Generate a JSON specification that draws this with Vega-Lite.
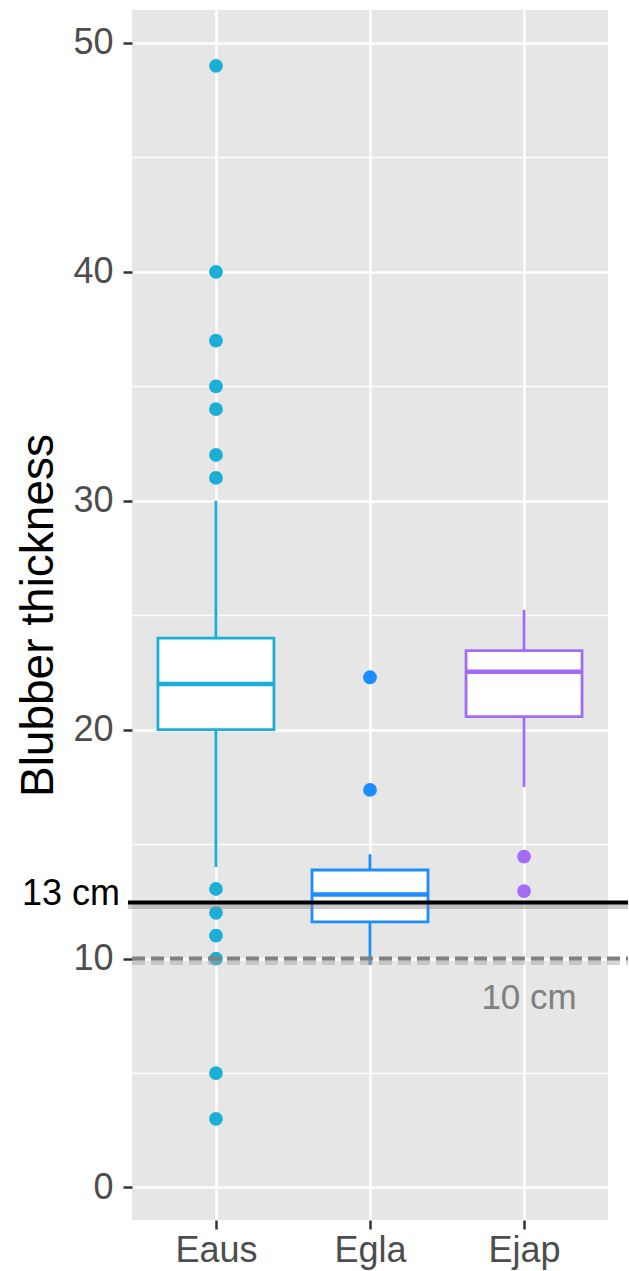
{
  "$schema": "https://vega.github.io/schema/vega-lite/v6.json",
  "width": 476,
  "height": 1210,
  "autosize": "none",
  "padding": {"left": 132, "top": 10, "right": 21, "bottom": 51},
  "background": "white",
  "config": {
    "view": {"fill": "#e6e6e6", "stroke": null},
    "font": "Liberation Sans"
  },
  "datasets": {
    "boxes": [
      {"species": "Eaus", "lower": 14.0, "q1": 20.0, "median": 22.0, "q3": 24.0, "upper": 30.0},
      {"species": "Egla", "lower": 9.72, "q1": 11.6, "median": 12.8, "q3": 13.87, "upper": 14.56},
      {"species": "Ejap", "lower": 17.5, "q1": 20.57, "median": 22.53, "q3": 23.45, "upper": 25.23}
    ],
    "outliers": [
      {"species": "Eaus", "thickness": 49},
      {"species": "Eaus", "thickness": 40},
      {"species": "Eaus", "thickness": 37},
      {"species": "Eaus", "thickness": 35},
      {"species": "Eaus", "thickness": 34},
      {"species": "Eaus", "thickness": 32},
      {"species": "Eaus", "thickness": 31},
      {"species": "Eaus", "thickness": 13.04},
      {"species": "Eaus", "thickness": 12.0},
      {"species": "Eaus", "thickness": 11.0},
      {"species": "Eaus", "thickness": 10.0},
      {"species": "Eaus", "thickness": 5.0},
      {"species": "Eaus", "thickness": 3.0},
      {"species": "Egla", "thickness": 22.29},
      {"species": "Egla", "thickness": 17.37},
      {"species": "Ejap", "thickness": 14.45},
      {"species": "Ejap", "thickness": 12.95}
    ],
    "refs": [
      {"value": 12.45, "label": "13 cm"},
      {"value": 10, "label": "10 cm"}
    ]
  },
  "layer": [
    {
      "data": {"name": "boxes"},
      "mark": {"type": "rule", "strokeWidth": 2.8},
      "encoding": {
        "x": {
          "field": "species", "type": "nominal",
          "scale": {"type": "point", "domain": ["Eaus", "Egla", "Ejap"], "padding": 0.545},
          "axis": {
            "title": null, "labelFontSize": 36, "labelColor": "#4d4d4d", "labelAngle": 0,
            "tickSize": 9, "tickWidth": 2.5, "tickColor": "#333333", "labelPadding": 4,
            "grid": true, "gridColor": "white", "gridWidth": 2.5, "domain": false,
            "labelFont": "Liberation Sans"
          }
        },
        "y": {
          "field": "lower", "type": "quantitative",
          "scale": {"domain": [-1.42, 51.44], "nice": false, "zero": false},
          "axis": {
            "title": "Blubber thickness", "titleFontSize": 46, "titleFontWeight": "normal",
            "titleColor": "#000000", "titlePadding": 10, "titleFont": "Liberation Sans",
            "values": [0, 5, 10, 15, 20, 25, 30, 35, 40, 45, 50],
            "labelExpr": "datum.value % 10 === 0 ? datum.label : ''",
            "labelFontSize": 36, "labelColor": "#4d4d4d", "labelPadding": 10,
            "labelOverlap": false, "labelFlush": false, "labelFont": "Liberation Sans",
            "tickSize": 9, "tickWidth": 2.5, "tickColor": "#333333",
            "tickOpacity": {"condition": {"test": "datum.value % 10 !== 0", "value": 0}, "value": 1},
            "grid": true, "gridColor": "white",
            "gridWidth": {"condition": {"test": "datum.value % 10 === 0", "value": 2.5}, "value": 1.3},
            "domain": false
          }
        },
        "y2": {"field": "upper"},
        "color": {
          "field": "species", "type": "nominal",
          "scale": {"domain": ["Eaus", "Egla", "Ejap"], "range": ["#1bafd6", "#1a8dff", "#a46cf6"]},
          "legend": null
        }
      }
    },
    {
      "data": {"name": "boxes"},
      "mark": {"type": "bar", "size": 116, "fill": "white", "strokeWidth": 2.8, "orient": "vertical"},
      "encoding": {
        "x": {"field": "species", "type": "nominal"},
        "y": {"field": "q1", "type": "quantitative"},
        "y2": {"field": "q3"},
        "stroke": {
          "field": "species", "type": "nominal",
          "scale": {"domain": ["Eaus", "Egla", "Ejap"], "range": ["#1bafd6", "#1a8dff", "#a46cf6"]},
          "legend": null
        }
      }
    },
    {
      "data": {"name": "boxes"},
      "mark": {"type": "tick", "size": 116, "thickness": 4.5, "opacity": 1},
      "encoding": {
        "x": {"field": "species", "type": "nominal"},
        "y": {"field": "median", "type": "quantitative"},
        "color": {"field": "species", "type": "nominal", "legend": null}
      }
    },
    {
      "data": {"name": "outliers"},
      "mark": {"type": "circle", "size": 190, "opacity": 1},
      "encoding": {
        "x": {"field": "species", "type": "nominal"},
        "y": {"field": "thickness", "type": "quantitative"},
        "color": {"field": "species", "type": "nominal", "legend": null}
      }
    },
    {
      "data": {"name": "refs"},
      "transform": [{"filter": "datum.label === '13 cm'"}],
      "mark": {"type": "rule", "color": "#8c8c8c", "opacity": 0.45, "strokeWidth": 5, "xOffset": -88, "x2Offset": 104, "yOffset": 4},
      "encoding": {
        "x": {"datum": "Eaus"},
        "x2": {"datum": "Ejap"},
        "y": {"field": "value", "type": "quantitative"}
      }
    },
    {
      "data": {"name": "refs"},
      "transform": [{"filter": "datum.label === '13 cm'"}],
      "mark": {"type": "rule", "color": "#000000", "strokeWidth": 4, "xOffset": -88, "x2Offset": 104},
      "encoding": {
        "x": {"datum": "Eaus"},
        "x2": {"datum": "Ejap"},
        "y": {"field": "value", "type": "quantitative"}
      }
    },
    {
      "data": {"name": "refs"},
      "transform": [{"filter": "datum.label === '10 cm'"}],
      "mark": {"type": "rule", "color": "#a0a0a0", "opacity": 0.45, "strokeWidth": 5, "strokeDash": [13, 6], "xOffset": -84, "x2Offset": 104, "yOffset": 4},
      "encoding": {
        "x": {"datum": "Eaus"},
        "x2": {"datum": "Ejap"},
        "y": {"field": "value", "type": "quantitative"}
      }
    },
    {
      "data": {"name": "refs"},
      "transform": [{"filter": "datum.label === '10 cm'"}],
      "mark": {"type": "rule", "color": "#808080", "strokeWidth": 4, "strokeDash": [13, 6], "xOffset": -84, "x2Offset": 104},
      "encoding": {
        "x": {"datum": "Eaus"},
        "x2": {"datum": "Ejap"},
        "y": {"field": "value", "type": "quantitative"}
      }
    },
    {
      "data": {"name": "refs"},
      "transform": [{"filter": "datum.label === '13 cm'"}],
      "mark": {"type": "text", "align": "right", "baseline": "middle", "dx": -96, "dy": -9, "fontSize": 36, "color": "#000000", "font": "Liberation Sans"},
      "encoding": {
        "x": {"datum": "Eaus"},
        "y": {"field": "value", "type": "quantitative"},
        "text": {"field": "label"}
      }
    },
    {
      "data": {"name": "refs"},
      "transform": [{"filter": "datum.label === '10 cm'"}],
      "mark": {"type": "text", "align": "center", "baseline": "middle", "dx": 5, "dy": 39, "fontSize": 35, "color": "#808080", "font": "Liberation Sans"},
      "encoding": {
        "x": {"datum": "Ejap"},
        "y": {"field": "value", "type": "quantitative"},
        "text": {"field": "label"}
      }
    }
  ]
}
